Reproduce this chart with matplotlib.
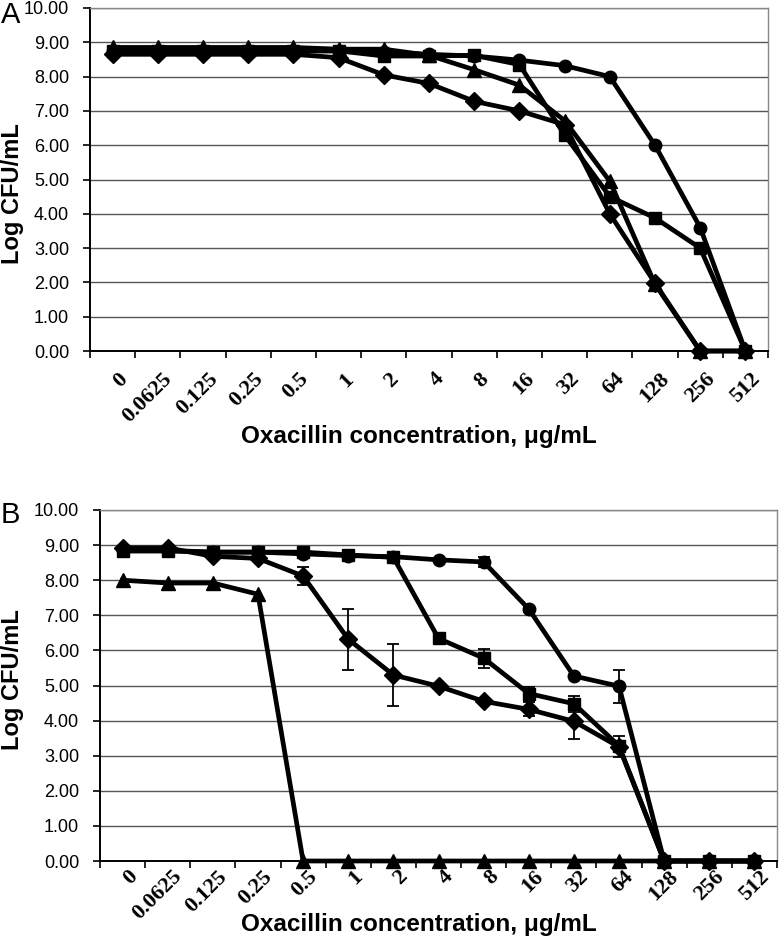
import numpy as np
import matplotlib
matplotlib.use("Agg")
import matplotlib.pyplot as plt
from matplotlib import font_manager
from matplotlib.ticker import FormatStrFormatter

conc_labels = ["0", "0.0625", "0.125", "0.25", "0.5", "1", "2", "4", "8",
               "16", "32", "64", "128", "256", "512"]

# panel A
a_diamond = [8.65, 8.65, 8.65, 8.65, 8.65, 8.55, 8.05, 7.8, 7.28, 7.0, 6.6, 4.0, 1.98, 0.0, 0.0]
a_square = [8.75, 8.75, 8.75, 8.75, 8.75, 8.75, 8.6, 8.6, 8.62, 8.35, 6.3, 4.5, 3.88, 3.0, 0.0]
a_triangle = [8.85, 8.85, 8.85, 8.85, 8.85, 8.8, 8.8, 8.62, 8.2, 7.75, 6.72, 4.95, 1.95, 0.0, 0.0]
a_circle = [8.75, 8.75, 8.75, 8.75, 8.75, 8.75, 8.72, 8.65, 8.6, 8.48, 8.32, 8.0, 6.0, 3.6, 0.0]

# panel B
b_diamond = [8.92, 8.92, 8.68, 8.62, 8.12, 6.32, 5.3, 4.98, 4.55, 4.32, 3.98, 3.25, 0.0, 0.0, 0.0]
b_diamond_err = [0, 0, 0, 0, 0.25, 0.87, 0.87, 0, 0, 0.2, 0.5, 0.3, 0, 0, 0]
b_square = [8.83, 8.83, 8.8, 8.8, 8.8, 8.72, 8.65, 6.34, 5.78, 4.77, 4.48, 3.28, 0.0, 0.0, 0.0]
b_square_err = [0, 0, 0, 0, 0, 0, 0, 0, 0.27, 0.2, 0.23, 0, 0, 0, 0]
b_circle = [8.85, 8.85, 8.8, 8.8, 8.75, 8.7, 8.67, 8.58, 8.52, 7.18, 5.27, 4.98, 0.0, 0.0, 0.0]
b_circle_err = [0, 0, 0, 0, 0, 0, 0, 0, 0.15, 0.08, 0, 0.47, 0, 0, 0]
b_triangle = [8.0, 7.92, 7.92, 7.6, 0.0, 0.0, 0.0, 0.0, 0.0, 0.0, 0.0, 0.0, 0.0, 0.0, 0.0]


def pick_font(names):
    installed = {f.name for f in font_manager.fontManager.ttflist}
    for n in names:
        if n in installed:
            return n
    return "DejaVu Sans"


SANS = pick_font(["Liberation Sans", "Arial"])
NARROW = pick_font(["Liberation Sans Narrow", "Arial Narrow", "DejaVu Sans Condensed", "Liberation Sans"])
SERIF = pick_font(["Liberation Serif", "Times New Roman", "DejaVu Serif"])

x = np.arange(len(conc_labels)) + 0.5


def style_axes(ax, label_pad):
    ax.set_xlim(0, len(conc_labels))
    ax.set_ylim(0, 10)
    ax.set_yticks(np.arange(0, 11))
    ax.yaxis.set_major_formatter(FormatStrFormatter("%.2f"))
    ax.grid(axis="y", color="#555555", linewidth=1.0, zorder=0)
    ax.set_axisbelow(True)
    ax.set_xticks(np.arange(0, len(conc_labels) + 1))
    ax.set_xticklabels([])
    ax.set_xticks(x + 0.1, minor=True)
    ax.set_xticklabels(conc_labels, minor=True, rotation=45, ha="right",
                       rotation_mode="anchor", fontfamily=SERIF,
                       fontweight="bold", fontsize=16)
    ax.tick_params(axis="x", which="major", direction="out", length=5,
                   width=1.2, color="black")
    ax.tick_params(axis="x", which="minor", length=0, pad=label_pad)
    ax.tick_params(axis="y", direction="out", length=5, width=1.2, pad=10,
                   labelsize=13)
    for lab in ax.get_yticklabels():
        lab.set_fontfamily(SANS)
    ax.spines["left"].set_color("black")
    ax.spines["left"].set_linewidth(1.4)
    ax.spines["bottom"].set_color("black")
    ax.spines["bottom"].set_linewidth(1.4)
    for s in ("top", "right"):
        ax.spines[s].set_color("#888888")
        ax.spines[s].set_linewidth(1.0)


def draw(ax, y, marker, ms, err=None):
    if err is not None:
        ax.errorbar(x, y, yerr=err, fmt="none", ecolor="black",
                    elinewidth=1.3, capsize=4, capthick=1.3, zorder=2)
    ax.plot(x, y, color="black", linewidth=3.4, marker=marker,
            markersize=ms, markerfacecolor="black", markeredgecolor="black",
            zorder=3, clip_on=False)


fig = plt.figure(figsize=(7.8, 9.4), dpi=100)

axA = fig.add_axes([90 / 780, 1 - 351 / 940, 678 / 780, 343 / 940])
style_axes(axA, 13)
draw(axA, a_diamond, "D", 9)
draw(axA, a_square, "s", 9)
draw(axA, a_triangle, "^", 10)
draw(axA, a_circle, "o", 9)

axB = fig.add_axes([100 / 780, 1 - 861 / 940, 677 / 780, 351 / 940])
style_axes(axB, 4)
draw(axB, b_diamond, "D", 9, b_diamond_err)
draw(axB, b_square, "s", 9, b_square_err)
draw(axB, b_circle, "o", 9, b_circle_err)
draw(axB, b_triangle, "^", 10)

xlabel = "Oxacillin concentration, \u03bcg/mL"
fig.text(419 / 780, 1 - 437 / 940, xlabel, ha="center", va="center",
         fontfamily=NARROW, fontweight="bold", fontsize=17.5)
fig.text(419 / 780, 1 - 925 / 940, xlabel, ha="center", va="center",
         fontfamily=NARROW, fontweight="bold", fontsize=17.5)

fig.text(13 / 780, 1 - 194 / 940, "Log CFU/mL", rotation=90, ha="center",
         va="center", fontfamily=SANS, fontweight="bold", fontsize=17)
fig.text(13 / 780, 1 - 680 / 940, "Log CFU/mL", rotation=90, ha="center",
         va="center", fontfamily=SANS, fontweight="bold", fontsize=17)

fig.text(1 / 780, 1 - 15 / 940, "A", ha="left", va="center",
         fontfamily=SANS, fontsize=21)
fig.text(1 / 780, 1 - 515 / 940, "B", ha="left", va="center",
         fontfamily=SANS, fontsize=21)

fig.savefig("out.png", dpi=100)
